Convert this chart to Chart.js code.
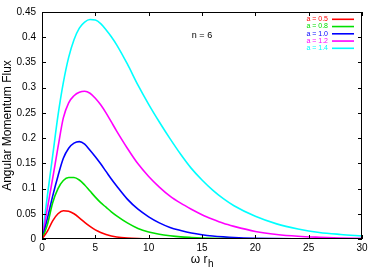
<!DOCTYPE html>
<html><head><meta charset="utf-8">
<script src="https://cdn.jsdelivr.net/npm/chart.js@4"></script>
<style>html,body{margin:0;padding:0;background:#fff}</style>
</head><body>
<canvas id="c" width="375" height="273"></canvas>
<script>
const xValues    = [0, 0.5, 1, 1.5, 2, 2.5, 3, 3.5, 4, 4.5, 5, 5.5, 6, 6.5, 7, 8, 9, 10, 11, 12, 13, 14, 15, 16, 17, 18, 20, 22, 24, 26, 28, 30];
const seriesA05  = [0, 0.015, 0.036, 0.050, 0.056, 0.055, 0.050, 0.042, 0.033, 0.025, 0.018, 0.013, 0.009, 0.006, 0.004, 0.002, 0.001, 0.0005, 0.0003, 0.0002, 0.0001, 0, 0, 0, 0, 0, 0, 0, 0, 0, 0, 0];
const seriesA08  = [0, 0.028, 0.072, 0.100, 0.116, 0.122, 0.122, 0.117, 0.107, 0.095, 0.083, 0.072, 0.063, 0.054, 0.046, 0.032, 0.021, 0.014, 0.0095, 0.0065, 0.0043, 0.003, 0.002, 0.0013, 0.0009, 0.0006, 0.0003, 0.0002, 0.0001, 0, 0, 0];
const seriesA10  = [0, 0.040, 0.085, 0.125, 0.160, 0.180, 0.190, 0.193, 0.188, 0.176, 0.163, 0.149, 0.134, 0.119, 0.105, 0.079, 0.059, 0.044, 0.032, 0.023, 0.017, 0.012, 0.0085, 0.006, 0.0043, 0.003, 0.0015, 0.0008, 0.0005, 0.0003, 0.0002, 0.0001];
const seriesA12  = [0, 0.060, 0.120, 0.182, 0.240, 0.270, 0.284, 0.291, 0.293, 0.289, 0.279, 0.266, 0.250, 0.232, 0.214, 0.180, 0.149, 0.124, 0.103, 0.085, 0.071, 0.059, 0.048, 0.039, 0.031, 0.025, 0.015, 0.009, 0.0055, 0.0035, 0.002, 0.0013];
const seriesA14  = [0, 0.085, 0.165, 0.245, 0.310, 0.360, 0.395, 0.418, 0.430, 0.435, 0.434, 0.427, 0.415, 0.401, 0.385, 0.347, 0.305, 0.267, 0.232, 0.199, 0.168, 0.140, 0.117, 0.097, 0.080, 0.066, 0.045, 0.030, 0.020, 0.013, 0.009, 0.006];
const seriesLabels = ['a = 0.5', 'a = 0.8', 'a = 1.0', 'a = 1.2', 'a = 1.4'];
const seriesColors = ['#ff0000', '#00e000', '#0000ff', '#ff00ff', '#00ffff'];
const xTickStep = 5, xMin = 0, xMax = 30;
const yTickStep = 0.05, yMin = 0, yMax = 0.45;
const annotationText = 'n = 6', annotationX = 15, annotationY = 0.403;
const yTitle = 'Angular Momentum Flux';

const allSeries = [seriesA05, seriesA08, seriesA10, seriesA12, seriesA14];
const datasets = allSeries.map((s, i) => ({
  label: seriesLabels[i],
  data: xValues.map((x, j) => ({x: x, y: s[j]})),
  borderColor: seriesColors[i],
  backgroundColor: seriesColors[i],
  borderWidth: 1.6,
  pointRadius: 0,
  fill: false,
  cubicInterpolationMode: 'monotone'
}));

const framePlugin = {
  id: 'frame',
  afterDatasetsDraw(chart) {
    const ctx = chart.ctx, a = chart.chartArea;
    const xs = chart.scales.x, ys = chart.scales.y;
    ctx.save();
    ctx.strokeStyle = '#000';
    ctx.lineWidth = 1;
    ctx.strokeRect(a.left + 0.5, a.top + 0.5, a.right - a.left - 1, a.bottom - a.top - 1);
    const tl = 4;
    ctx.beginPath();
    xs.ticks.forEach(t => {
      const px = Math.round(xs.getPixelForValue(t.value)) + 0.5;
      ctx.moveTo(px, a.bottom); ctx.lineTo(px, a.bottom - tl);
      ctx.moveTo(px, a.top); ctx.lineTo(px, a.top + tl);
    });
    ys.ticks.forEach(t => {
      const py = Math.round(ys.getPixelForValue(t.value)) + 0.5;
      ctx.moveTo(a.left, py); ctx.lineTo(a.left + tl, py);
      ctx.moveTo(a.right, py); ctx.lineTo(a.right - tl, py);
    });
    ctx.stroke();
    ctx.fillStyle = '#000';
    ctx.font = '9px "Liberation Sans", Arial, sans-serif';
    ctx.textAlign = 'center';
    ctx.textBaseline = 'middle';
    ctx.fillText(annotationText, xs.getPixelForValue(annotationX), ys.getPixelForValue(annotationY));
    ctx.font = '7px "Liberation Sans", Arial, sans-serif';
    ctx.textAlign = 'right';
    chart.data.datasets.forEach((d, i) => {
      const y = a.top + 7.3 + i * 7.25;
      ctx.fillStyle = d.borderColor;
      ctx.fillText(d.label, a.right - 34, y);
      ctx.strokeStyle = d.borderColor;
      ctx.lineWidth = 1.6;
      ctx.beginPath();
      ctx.moveTo(a.right - 30, y); ctx.lineTo(a.right - 8, y);
      ctx.stroke();
    });
    ctx.fillStyle = '#000';
    ctx.textAlign = 'left';
    ctx.textBaseline = 'alphabetic';
    const main = '\u03C9 r', sub = 'h';
    ctx.font = '12px "Liberation Sans", Arial, sans-serif';
    const wMain = ctx.measureText(main).width;
    ctx.font = '10px "Liberation Sans", Arial, sans-serif';
    const wSub = ctx.measureText(sub).width;
    const cx = (a.left + a.right) / 2;
    const x0 = cx - (wMain + wSub) / 2;
    const base = a.bottom + 24;
    ctx.font = '12px "Liberation Sans", Arial, sans-serif';
    ctx.fillText(main, x0, base);
    ctx.font = '10px "Liberation Sans", Arial, sans-serif';
    ctx.fillText(sub, x0 + wMain + 0.5, base + 4);
    ctx.restore();
  }
};

new Chart(document.getElementById('c'), {
  type: 'line',
  data: { datasets: datasets },
  options: {
    responsive: false,
    animation: false,
    devicePixelRatio: 1,
    layout: { padding: { top: 8, right: 13, left: 0, bottom: 0 } },
    plugins: { legend: { display: false }, tooltip: { enabled: false } },
    scales: {
      x: {
        type: 'linear', min: xMin, max: xMax,
        ticks: { stepSize: xTickStep, color: '#000', padding: 3, maxRotation: 0,
                 font: { size: 10, family: '"Liberation Sans", Arial, sans-serif' } },
        grid: { display: false, drawTicks: false },
        border: { display: false },
        afterFit(s) { s.height = 34; }
      },
      y: {
        type: 'linear', min: yMin, max: yMax,
        ticks: { stepSize: yTickStep, color: '#000', padding: 6,
                 font: { size: 10, family: '"Liberation Sans", Arial, sans-serif' },
                 callback: v => String(+(+v).toFixed(2)) },
        grid: { display: false, drawTicks: false },
        border: { display: false },
        title: { display: true, text: yTitle, color: '#000', padding: 0,
                 font: { size: 12, family: '"Liberation Sans", Arial, sans-serif' } },
        afterFit(s) { s.width = 42; }
      }
    }
  },
  plugins: [framePlugin]
});
</script>
</body></html>
